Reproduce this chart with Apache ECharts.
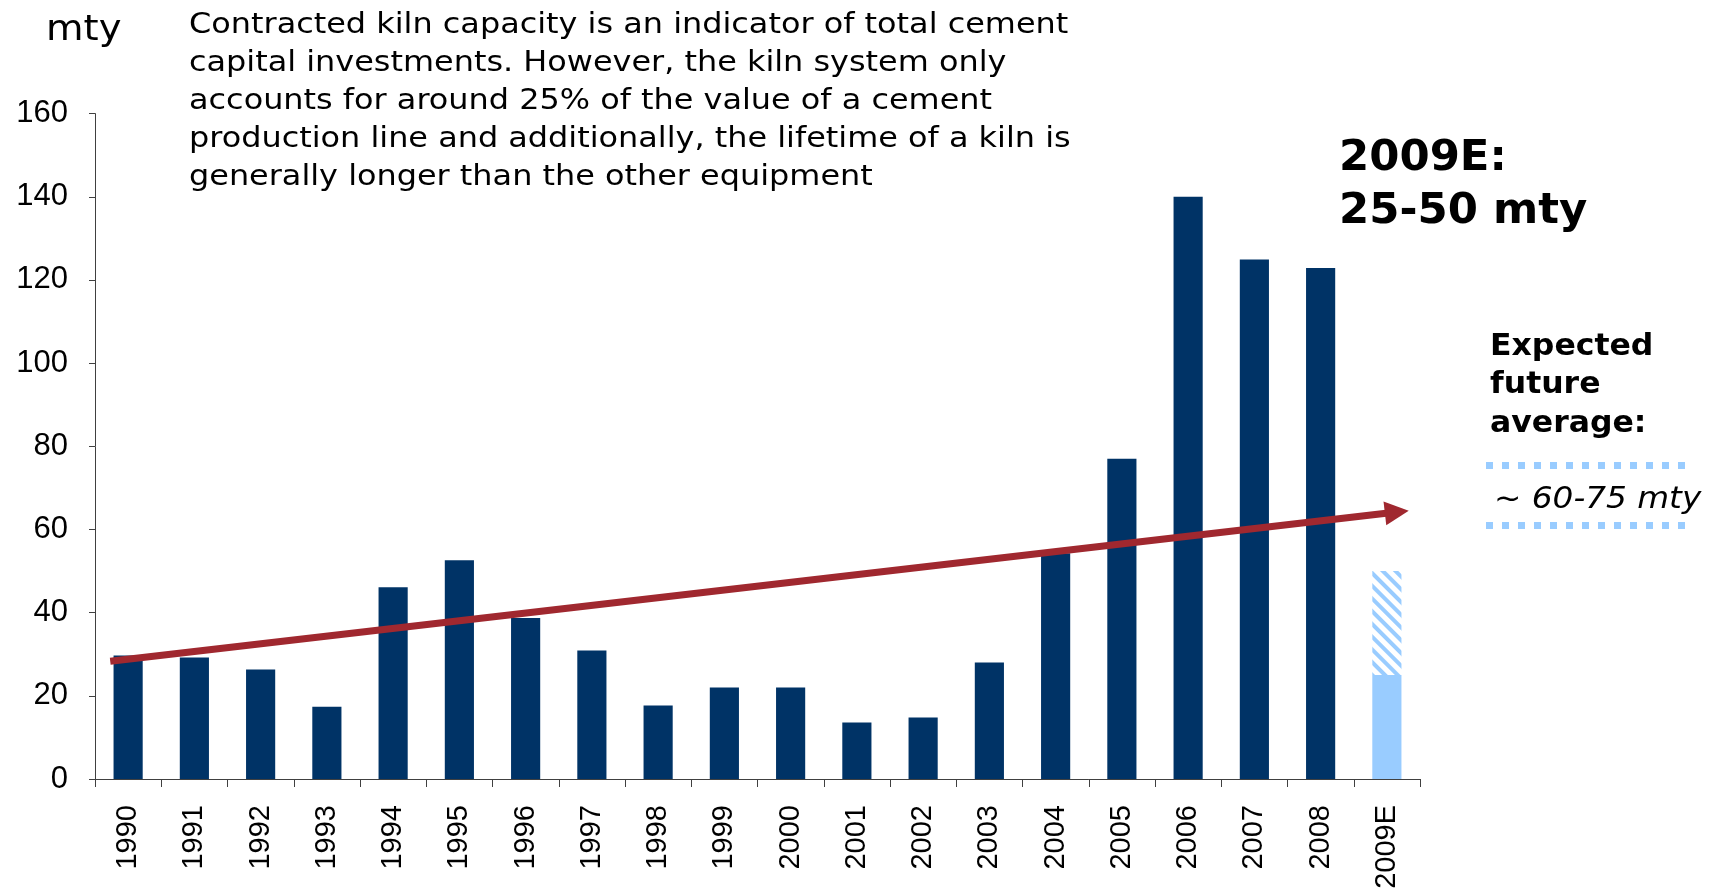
<!DOCTYPE html>
<html>
<head>
<meta charset="utf-8">
<title>Contracted kiln capacity</title>
<script src="https://cdn.jsdelivr.net/npm/echarts@6/dist/echarts.min.js"></script>
<style>
  html, body { margin: 0; padding: 0; background: #fff; }
  #chart { width: 1713px; height: 895px; }
</style>
</head>
<body>
<div id="chart"></div>
<script>
const years = ['1990', '1991', '1992', '1993', '1994', '1995', '1996', '1997', '1998', '1999',
  '2000', '2001', '2002', '2003', '2004', '2005', '2006', '2007', '2008', '2009E'];
const capacity = [29.7, 29.2, 26.3, 17.4, 46.1, 52.6, 38.7, 30.9, 17.7, 22.0,
  22.0, 13.6, 14.8, 28.0, 54.3, 77.0, 140.0, 124.9, 122.9, '-'];
const estimateLow = 25;    // 2009E lower bound
const estimateHigh = 50;   // 2009E upper bound
const trendStart = [-0.27, 28.3];
const trendEnd = [19.15, 64.2];
const yTicks = { min: 0, max: 160, interval: 20 };

const noteLines = [
  'Contracted kiln capacity is an indicator of total cement',
  'capital investments. However, the kiln system only',
  'accounts for around 25% of the value of a cement',
  'production line and additionally, the lifetime of a kiln is',
  'generally longer than the other equipment'
];

const navy = '#003366';
const lightBlue = '#99ccff';
const arrowRed = '#a0282f';
const textFont = '"DejaVu Sans", Verdana, sans-serif';

const last = years.length - 1;
const lowData = years.map((y, i) => (i === last ? estimateLow : '-'));
const rangeData = years.map((y, i) => (i === last ? estimateHigh - estimateLow : '-'));

const chart = echarts.init(document.getElementById('chart'), null, { renderer: 'canvas' });

chart.setOption({
  animation: false,
  grid: { left: 95, right: 293, top: 113.6, bottom: 116 },
  xAxis: [{
    type: 'category',
    data: years,
    axisLine: { lineStyle: { color: '#404040', width: 1 } },
    axisTick: { show: true, length: 8, lineStyle: { color: '#404040' } },
    axisLabel: {
      rotate: 90,
      margin: 26,
      color: '#000',
      fontFamily: 'Liberation Sans, Arial, sans-serif',
      fontSize: 29
    }
  }, {
    type: 'value',
    min: -0.5,
    max: years.length - 0.5,
    show: false
  }],
  yAxis: {
    type: 'value',
    min: yTicks.min,
    max: yTicks.max,
    interval: yTicks.interval,
    splitLine: { show: false },
    axisLine: { show: true, onZero: false, lineStyle: { color: '#404040', width: 1 } },
    axisTick: { show: true, length: 6, lineStyle: { color: '#404040' } },
    axisLabel: {
      margin: 27,
      color: '#000',
      fontFamily: 'Liberation Sans, Arial, sans-serif',
      fontSize: 31
    }
  },
  series: [{
    name: 'Contracted kiln capacity',
    type: 'bar',
    stack: 'kiln',
    barWidth: '44%',
    data: capacity,
    itemStyle: { color: navy }
  }, {
    name: '2009E low',
    type: 'bar',
    stack: 'kiln',
    barWidth: '44%',
    data: lowData,
    itemStyle: { color: lightBlue }
  }, {
    name: '2009E range',
    type: 'bar',
    stack: 'kiln',
    barWidth: '44%',
    data: rangeData,
    itemStyle: {
      color: '#ffffff',
      decal: {
        symbol: 'rect',
        symbolSize: 1,
        color: lightBlue,
        backgroundColor: '#ffffff',
        dashArrayX: [1, 0],
        dashArrayY: [4, 5],
        rotation: Math.PI / 4
      }
    }
  }, {
    name: 'trend',
    type: 'line',
    xAxisIndex: 1,
    data: [trendStart, trendEnd],
    showSymbol: false,
    lineStyle: { opacity: 0 },
    z: 5,
    markLine: {
      silent: true,
      symbol: ['none', 'triangle'],
      symbolSize: [24, 24],
      label: { show: false },
      lineStyle: { color: arrowRed, width: 7, type: 'solid' },
      emphasis: { disabled: true },
      data: [[{ coord: trendStart }, { coord: trendEnd }]]
    }
  }],
  graphic: [{
    type: 'text',
    left: 46,
    top: 13,
    scaleX: 1.07,
    style: { text: 'mty', font: '36px ' + textFont, fill: '#000' }
  }, {
    type: 'text',
    left: 189,
    top: 6,
    scaleX: 1.1,
    style: {
      text: noteLines.join('\n'),
      font: '29px ' + textFont,
      lineHeight: 38.2,
      fill: '#000'
    }
  }, {
    type: 'text',
    left: 1339,
    top: 132,
    scaleX: 1.01,
    style: {
      text: '2009E:\n25-50 mty',
      font: 'bold 43px ' + textFont,
      lineHeight: 53,
      fill: '#000'
    }
  }, {
    type: 'text',
    left: 1490,
    top: 328,
    scaleX: 1.05,
    style: {
      text: 'Expected\nfuture\naverage:',
      font: 'bold 30px ' + textFont,
      lineHeight: 38.3,
      fill: '#000'
    }
  }, {
    type: 'line',
    shape: { x1: 1486, y1: 465.5, x2: 1690, y2: 465.5 },
    style: { stroke: lightBlue, lineWidth: 7, lineDash: [7, 9] }
  }, {
    type: 'text',
    left: 1494,
    top: 485,
    scaleX: 1.09,
    style: {
      text: '~ 60-75 mty',
      font: 'italic 30px ' + textFont,
      fill: '#000'
    }
  }, {
    type: 'line',
    shape: { x1: 1486, y1: 525.5, x2: 1690, y2: 525.5 },
    style: { stroke: lightBlue, lineWidth: 7, lineDash: [7, 9] }
  }]
});
</script>
</body>
</html>
